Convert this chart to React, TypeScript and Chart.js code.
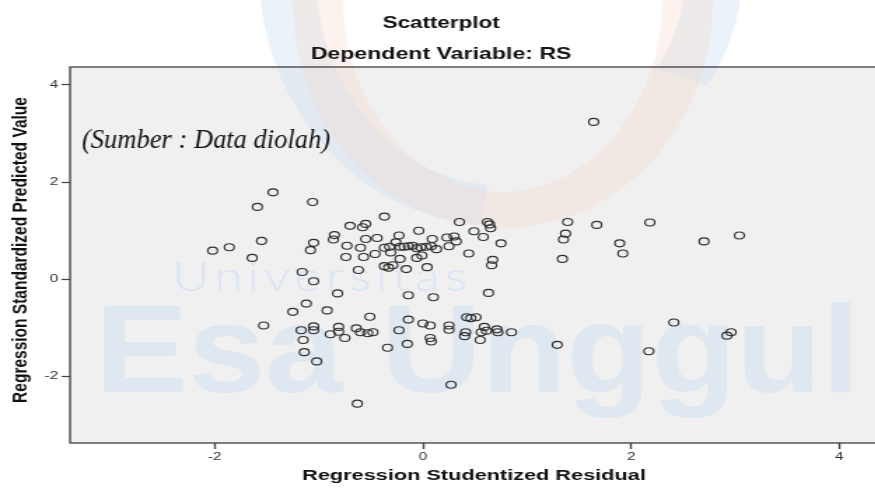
import React, { useEffect, useRef } from 'react';
import { Chart, registerables } from 'chart.js';
Chart.register(...registerables);

// Regression Studentized Residual (x)
const residuals = [
  1.64, -1.44, -1.59, -1.06, -2.02, -1.86, -1.55, -1.64, -1.05, -1.08,
  -1.16, -1.05, -0.70, -0.58, -0.55, -0.37, -0.85, -0.86, -0.73, -0.60,
  -0.55, -0.44, -0.23, -0.04, 0.09, -0.74, -0.57, -0.62, -0.46, -0.37,
  -0.32, -0.31, -0.26, -0.22, -0.37, -0.33, -0.29, -0.16, -0.06, -0.01,
  0.04, -0.18, -0.14, -0.10, -0.06, -0.02, 0.03, 0.08, 0.13, 0.23,
  0.30, 0.25, 0.32, 0.35, 0.62, 0.64, 0.65, 0.49, 0.58, 0.75,
  0.44, 0.67, 0.66, 1.39, 1.37, 1.35, 1.34, 1.67, 2.18, 1.89,
  1.92, 2.70, 3.04, -0.22, -0.82, -0.14, 0.10, 0.63, -1.12, -1.25,
  -0.92, -0.51, -0.14, -1.53, -1.17, -1.05, -1.05, -0.89, -0.81, -0.81,
  -0.75, -0.64, -0.60, -0.53, -0.48, -0.23, 0.00, 0.07, 0.07, 0.08,
  -1.15, -1.14, -0.34, -0.15, -1.02, -0.63, 0.25, 0.25, 0.42, 0.46,
  0.51, 0.41, 0.40, 0.59, 0.56, 0.61, 0.71, 0.72, 0.85, 0.55,
  1.29, 0.27, 2.41, 2.17, 2.96, 2.92,
];

// Regression Standardized Predicted Value (y)
const predicted = [
  3.24, 1.79, 1.49, 1.59, 0.59, 0.66, 0.79, 0.44, 0.75, 0.60,
  0.15, -0.04, 1.10, 1.07, 1.14, 1.29, 0.91, 0.82, 0.69, 0.65,
  0.83, 0.85, 0.90, 1.00, 0.83, 0.46, 0.46, 0.19, 0.52, 0.65,
  0.67, 0.55, 0.76, 0.42, 0.27, 0.24, 0.29, 0.21, 0.44, 0.49,
  0.25, 0.67, 0.68, 0.69, 0.64, 0.66, 0.67, 0.68, 0.62, 0.86,
  0.88, 0.68, 0.78, 1.18, 1.18, 1.13, 1.05, 0.99, 0.87, 0.74,
  0.53, 0.40, 0.29, 1.18, 0.94, 0.82, 0.42, 1.12, 1.17, 0.74,
  0.53, 0.78, 0.90, 0.67, -0.29, -0.33, -0.37, -0.28, -0.50, -0.67,
  -0.64, -0.77, -0.83, -0.95, -1.05, -0.97, -1.05, -1.13, -0.98, -1.08,
  -1.21, -1.01, -1.09, -1.11, -1.09, -1.05, -0.91, -0.95, -1.21, -1.28,
  -1.25, -1.50, -1.41, -1.33, -1.69, -2.56, -0.95, -1.04, -0.78, -0.80,
  -0.78, -1.09, -1.17, -0.98, -1.09, -1.06, -1.03, -1.09, -1.09, -1.25,
  -1.35, -2.17, -0.89, -1.48, -1.09, -1.16,
];

const xTicks = [-2, 0, 2, 4];
const yTicks = [-2, 0, 2, 4];
const xRange = [-3.39, 4.37];
const yRange = [-3.37, 4.37];

const titleText = 'Scatterplot';
const subtitleText = 'Dependent Variable: RS';
const xTitle = 'Regression Studentized Residual';
const yTitle = 'Regression Standardized Predicted Value';
const noteText = '(Sumber : Data diolah)';

const SX = 1.4; // horizontal stretch of the reference picture
const CW = 632;
const CH = 489;
const SANS = '"Liberation Sans", Arial, sans-serif';

const drawPlugin = {
  id: 'spssLook',
  beforeDraw(chart: any) {
    const { ctx, chartArea: a } = chart;
    ctx.save();
    ctx.fillStyle = '#ffffff';
    ctx.fillRect(0, 0, chart.width, chart.height);
    ctx.fillStyle = '#f0f0f0';
    ctx.fillRect(a.left, a.top, a.right - a.left, a.bottom - a.top);

    // faint watermark
    ctx.lineCap = 'butt';
    ctx.strokeStyle = 'rgba(205,222,242,0.4)';
    ctx.lineWidth = 40;
    ctx.beginPath();
    ctx.ellipse(355, -30, 150, 235, 0, Math.PI * 0.52, Math.PI * 1.0);
    ctx.stroke();
    ctx.beginPath();
    ctx.ellipse(360, -30, 150, 200, 0, 0, Math.PI * 0.18);
    ctx.stroke();
    ctx.strokeStyle = 'rgba(246,214,198,0.3)';
    ctx.lineWidth = 36;
    ctx.beginPath();
    ctx.ellipse(359, 0, 132, 210, 0, 0, Math.PI);
    ctx.stroke();

    ctx.fillStyle = 'rgba(205,222,242,0.5)';
    ctx.textBaseline = 'alphabetic';
    ctx.textAlign = 'left';
    ctx.font = `bold 125px ${SANS}`;
    ctx.fillText('Esa Unggul', 68, 392, 546);
    ctx.fillStyle = 'rgba(205,222,242,0.6)';
    ctx.font = `300 42px Lato, "Open Sans", sans-serif`;
    (ctx as any).letterSpacing = '4px';
    ctx.fillText('Universitas', 123, 291, 214);
    (ctx as any).letterSpacing = '0px';
    ctx.restore();
  },
  afterDraw(chart: any) {
    const { ctx, chartArea: a } = chart;
    ctx.save();
    ctx.strokeStyle = '#3c3c3c';
    ctx.lineWidth = 1.3;
    ctx.strokeRect(a.left, a.top, a.right - a.left, a.bottom - a.top);

    ctx.fillStyle = '#111';
    ctx.textAlign = 'center';
    ctx.textBaseline = 'middle';
    ctx.font = `bold 16px ${SANS}`;
    ctx.fillText(titleText, 315, 24);
    ctx.font = `bold 16.5px ${SANS}`;
    ctx.fillText(subtitleText, 315, 54);
    ctx.font = `bold 15.5px ${SANS}`;
    ctx.fillText(xTitle, (a.left + a.right) / 2, 476);
    ctx.save();
    ctx.translate(14.5, 250);
    ctx.rotate(-Math.PI / 2);
    ctx.fillText(yTitle, 0, 0);
    ctx.restore();

    // annotation added on top of the picture (not stretched)
    ctx.save();
    ctx.scale(1 / SX, 1);
    ctx.textAlign = 'left';
    ctx.font = `italic 26.5px "Liberation Serif", "Times New Roman", serif`;
    ctx.fillStyle = '#111';
    ctx.fillText(noteText, 82, 141, 252);
    ctx.restore();
    ctx.restore();
  },
};

export default function App() {
  const ref = useRef<HTMLCanvasElement>(null);
  useEffect(() => {
    document.body.style.margin = '0';
    const canvas = ref.current;
    if (!canvas) return;
    const points = residuals.map((x, i) => ({ x, y: predicted[i] }));
    const chart = new Chart(canvas, {
      type: 'scatter',
      data: {
        datasets: [
          {
            data: points,
            pointStyle: 'circle',
            pointRadius: 3.5,
            pointBorderWidth: 1.1,
            pointBorderColor: '#2e2e2e',
            pointBackgroundColor: 'rgba(0,0,0,0)',
          },
        ],
      },
      options: {
        animation: false,
        responsive: false,
        devicePixelRatio: 1,
        layout: { padding: { top: 67, right: 1, left: 0, bottom: 0 } },
        plugins: { legend: { display: false }, title: { display: false }, tooltip: { enabled: false } },
        scales: {
          x: {
            type: 'linear',
            min: xRange[0],
            max: xRange[1],
            afterBuildTicks: (s: any) => {
              s.ticks = xTicks.map((v) => ({ value: v }));
            },
            afterFit: (s: any) => {
              s.height = 46;
            },
            border: { display: false },
            grid: {
              display: true,
              drawOnChartArea: false,
              drawTicks: true,
              tickLength: 6,
              tickColor: '#444',
              tickWidth: 1.4,
            },
            ticks: {
              font: { family: SANS, size: 11 },
              color: '#333',
              padding: 1,
              maxRotation: 0,
              autoSkip: false,
            },
          },
          y: {
            type: 'linear',
            min: yRange[0],
            max: yRange[1],
            afterBuildTicks: (s: any) => {
              s.ticks = yTicks.map((v) => ({ value: v }));
            },
            afterFit: (s: any) => {
              s.width = 50;
            },
            border: { display: false },
            grid: {
              display: true,
              drawOnChartArea: false,
              drawTicks: true,
              tickLength: 6,
              tickColor: '#444',
              tickWidth: 1.2,
            },
            ticks: {
              font: { family: SANS, size: 11 },
              color: '#333',
              padding: 2.5,
              autoSkip: false,
            },
          },
        },
      },
      plugins: [drawPlugin],
    });
    return () => chart.destroy();
  }, []);
  return (
    <div
      style={{
        position: 'fixed',
        left: 0,
        top: 0,
        width: 875,
        height: CH,
        overflow: 'hidden',
        background: '#fff',
      }}
    >
      <canvas
        ref={ref}
        width={CW}
        height={CH}
        style={{ width: `${CW * SX}px`, height: `${CH}px`, display: 'block' }}
      />
    </div>
  );
}
